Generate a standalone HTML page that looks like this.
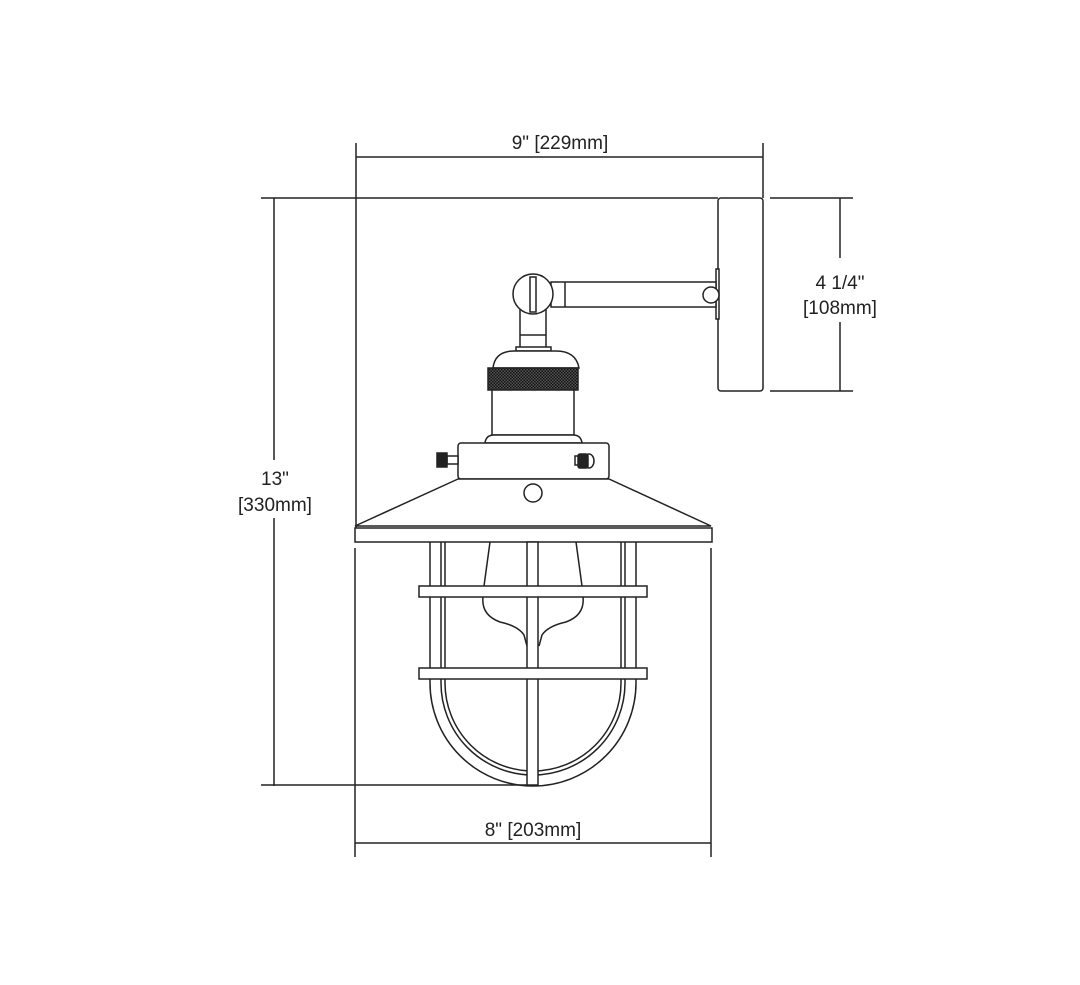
<!DOCTYPE html>
<html><head><style>
html,body{margin:0;padding:0;background:#fff;}
svg{display:block;}
text{font-family:"Liberation Sans",sans-serif;font-size:19px;fill:#222;}
</style></head><body>
<svg width="1080" height="985" viewBox="0 0 1080 985" xmlns="http://www.w3.org/2000/svg">
<defs>
<pattern id="kn" width="3" height="3" patternUnits="userSpaceOnUse">
<rect width="3" height="3" fill="#555"/><rect width="1.5" height="1.5" fill="#111"/><rect x="1.5" y="1.5" width="1.5" height="1.5" fill="#111"/>
</pattern>
</defs>
<g stroke="#222" stroke-width="1.5" fill="none">
<line x1="356" y1="143" x2="356" y2="528"/>
<line x1="763" y1="143" x2="763" y2="198"/>
<line x1="356" y1="157" x2="763" y2="157"/>
<line x1="261" y1="198" x2="718" y2="198"/>
<line x1="274" y1="198" x2="274" y2="460"/>
<line x1="274" y1="518" x2="274" y2="786"/>
<line x1="261" y1="785" x2="530" y2="785"/>
<line x1="770" y1="198" x2="853" y2="198"/>
<line x1="770" y1="391" x2="853" y2="391"/>
<line x1="840" y1="198" x2="840" y2="258"/>
<line x1="840" y1="322" x2="840" y2="391"/>
<line x1="355" y1="548" x2="355" y2="857"/>
<line x1="711" y1="548" x2="711" y2="857"/>
<line x1="355" y1="843" x2="711" y2="843"/>

<rect x="718" y="198" width="45" height="193" rx="3" fill="#fff"/>
<rect x="716" y="269" width="3" height="50" fill="#fff"/>
<rect x="551" y="282" width="165" height="25" fill="#fff"/>
<line x1="565" y1="282" x2="565" y2="307"/>
<circle cx="711" cy="295" r="8" fill="#fff"/>
<rect x="520" y="300" width="26" height="48" fill="#fff"/>
<line x1="520" y1="335" x2="546" y2="335"/>
<circle cx="533" cy="294" r="20" fill="#fff"/>
<rect x="530" y="277" width="6" height="35" fill="#fff"/>
<rect x="516" y="347" width="35" height="4" fill="#fff"/>

<path d="M493 368 Q495 351 514 351 L556 351 Q576 351 579 368 Z" fill="#fff"/>
<rect x="488" y="368" width="90" height="22" fill="url(#kn)"/>
<rect x="492" y="390" width="82" height="45" fill="#fff"/>
<path d="M485 443 Q486 435 494 435 L573 435 Q581 435 582 443 Z" fill="#fff"/>

<rect x="458" y="443" width="151" height="36" rx="3" fill="#fff"/>
<rect x="447" y="456" width="11" height="8" fill="#fff"/>
<rect x="437" y="453" width="10" height="14" fill="#222"/>
<ellipse cx="589" cy="461" rx="5" ry="7" fill="#fff"/>
<rect x="578" y="454" width="10" height="14" rx="2" fill="#222"/>
<rect x="575" y="456" width="3" height="9" fill="#fff"/>

<path d="M458 479 L355 526 L711 526 L609 479 Z" fill="#fff"/>
<circle cx="533" cy="493" r="9" fill="#fff"/>
<rect x="355" y="528" width="357" height="14" fill="#fff"/>

<path d="M490 542 L484 586 M576 542 L582 586"/>
<path d="M483 597 Q481 615 500 622 Q518 626 524 635 L527 646 M583 597 Q585 615 566 622 Q548 626 542 635 L539 646"/>

<path d="M430 542 L430 683 A103 103 0 0 0 636 683 L636 542"/>
<path d="M441 542 L441 683 A92 92 0 0 0 625 683 L625 542"/>
<path d="M445 542 L445 683 A88 88 0 0 0 621 683 L621 542"/>
<rect x="527" y="542" width="11" height="243" fill="#fff"/>
<rect x="419" y="586" width="228" height="11" fill="#fff"/>
<rect x="419" y="668" width="228" height="11" fill="#fff"/>
</g>
<text x="560" y="149" text-anchor="middle">9" [229mm]</text>
<text x="275" y="485" text-anchor="middle">13"</text>
<text x="275" y="511" text-anchor="middle">[330mm]</text>
<text x="840" y="289" text-anchor="middle">4 1/4"</text>
<text x="840" y="314" text-anchor="middle">[108mm]</text>
<text x="533" y="836" text-anchor="middle">8" [203mm]</text>
</svg>
</body></html>
